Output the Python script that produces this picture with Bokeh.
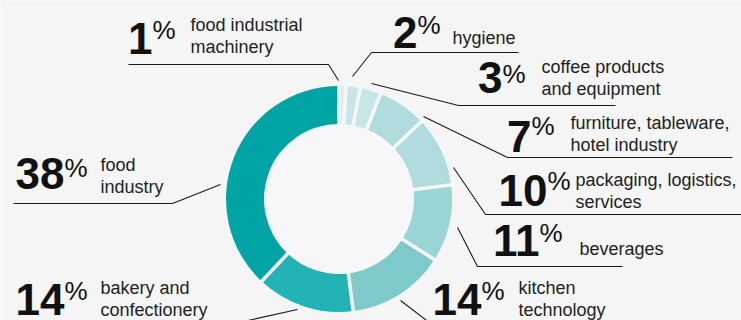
import numpy as np
from bokeh.plotting import figure
from bokeh.models import Range1d, ColumnDataSource
from bokeh.core.properties import value
from bokeh.embed import file_html
from bokeh.resources import INLINE

# ---------------- data ----------------
categories = ["food industrial\nmachinery", "hygiene", "coffee products\nand equipment",
              "furniture, tableware,\nhotel industry", "packaging, logistics,\nservices",
              "beverages", "kitchen\ntechnology", "bakery and\nconfectionery", "food\nindustry"]
shares = [1, 2, 3, 7, 10, 11, 14, 14, 38]
colors = ["#d8eef0", "#c6e6e8", "#c6e6e8", "#b1dcdd", "#b1dcdd", "#9ad5d6",
          "#7ecaca", "#22b4b5", "#00a4a5"]

# ---------------- layout (pixel positions, y measured from top) ----------------
W, H = 741, 320
BG = "#f5f5f5"
HOLE = "#f7f7f9"
CX, CY = 338.5, 198.5
R_OUT, R_IN = 113, 75

pct_x = [153, 418, 503, 532, 548, 540, 482, 65, 65]
num_base = [53, 47, 92, 151, 205, 255, 314, 314, 188]
pct_base = [37, 32, 81, 133, 188, 240, 298, 298, 175]
cat_x = [190, 452, 541, 570, 575, 579, 518, 100, 100]
cat_base = [30, 43, 72, 128, 185, 254, 293, 293, 170]
LINE_STEP = 22
NUM_SHIFT, PCT_SHIFT, CAT_SHIFT = 15, 8, 6
leaders = [
    [(128, 64), (328, 64), (338, 80)],
    [(352, 76), (371, 52), (518, 52)],
    [(371, 83), (458, 105), (615, 105)],
    [(423, 116), (507, 157), (732, 157)],
    [(453, 167), (485, 214), (741, 214)],
    [(457, 227), (477, 266), (622, 266)],
    [(400, 300), (434, 326), (741, 326)],
    [(297, 309), (225, 325), (15, 325)],
    [(13, 203), (172, 203), (220, 184)],
]


def Y(v):
    return H - v


p = figure(width=W, height=H, x_range=Range1d(0, W), y_range=Range1d(0, H),
           output_backend="svg", toolbar_location=None, min_border=0,
           x_axis_type=None, y_axis_type=None,
           background_fill_color=BG, border_fill_color=BG)
p.grid.visible = False
p.outline_line_color = None

# hole
p.circle(x=[CX], y=[Y(CY)], radius=R_IN, fill_color=HOLE, line_color=None)

# donut
frac = np.array(shares, dtype=float) / sum(shares)
cum = np.concatenate([[0.0], np.cumsum(frac)])
start = np.pi / 2 - 2 * np.pi * cum[:-1]
end = np.pi / 2 - 2 * np.pi * cum[1:]
wsrc = ColumnDataSource(dict(x=[CX] * len(shares), y=[Y(CY)] * len(shares),
                             start=start, end=end, color=colors))
p.annular_wedge(x="x", y="y", inner_radius=R_IN, outer_radius=R_OUT,
                start_angle="start", end_angle="end", direction="clock",
                fill_color="color", line_color=None, source=wsrc)

# separators between slices
ang = start
x0 = CX + (R_IN - 0.5) * np.cos(ang)
y0 = Y(CY) + (R_IN - 0.5) * np.sin(ang)
x1 = CX + (R_OUT + 3) * np.cos(ang)
y1 = Y(CY) + (R_OUT + 3) * np.sin(ang)
p.segment(x0=x0, y0=y0, x1=x1, y1=y1, line_color=HOLE, line_width=3.5)

# leader lines
p.multi_line(xs=[[pt[0] for pt in L] for L in leaders],
             ys=[[Y(pt[1]) for pt in L] for L in leaders],
             line_color="#1a1a1a", line_width=1.1)

FONT = value("Liberation Sans")

# big numbers
p.text(x=[px - 1 for px in pct_x], y=[Y(b - NUM_SHIFT) for b in num_base],
       text=[str(s) for s in shares], text_align="right", text_baseline="alphabetic",
       text_font=FONT, text_font_style="bold", text_font_size="44px", text_color="#111111")
# percent signs
p.text(x=[px - 1 for px in pct_x], y=[Y(b - PCT_SHIFT) for b in pct_base],
       text=["%"] * len(shares), text_align="left", text_baseline="alphabetic",
       text_font=FONT, text_font_size="26px", text_color="#111111")

# category labels
lx, ly, lt = [], [], []
for c, x, b in zip(categories, cat_x, cat_base):
    for i, line in enumerate(c.split("\n")):
        lx.append(x)
        ly.append(Y(b - CAT_SHIFT + i * LINE_STEP))
        lt.append(line)
p.text(x=lx, y=ly, text=lt, text_align="left", text_baseline="alphabetic",
       text_font=FONT, text_font_size="18px", text_color="#222222")

open("out.html", "w").write(file_html(p, INLINE))
